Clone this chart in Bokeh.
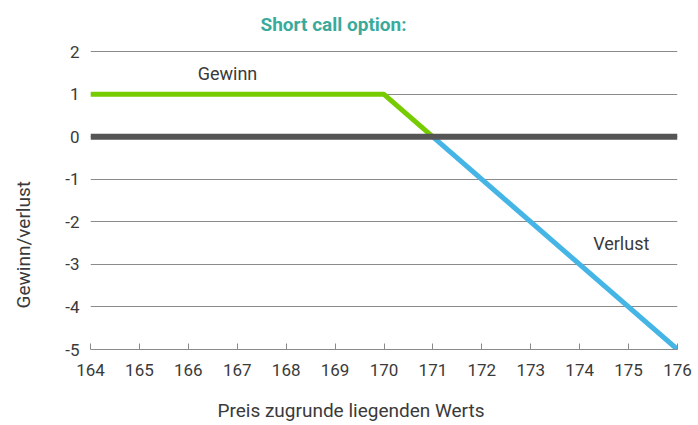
from bokeh.plotting import figure
from bokeh.models import Span, Label, Range1d, FixedTicker, Title
from bokeh.embed import file_html
from bokeh.resources import INLINE

# data
gain_x = [164, 170, 171]
gain_y = [1, 1, 0]
loss_x = [171, 176]
loss_y = [0, -5]
x_ticks = list(range(164, 177))
y_ticks = [-5, -4, -3, -2, -1, 0, 1, 2]

FONT = "Roboto"
TXT = "#3a3a3a"
NBSP = "\u00a0"

p = figure(width=698, height=425, output_backend="svg", toolbar_location=None,
           x_range=Range1d(164, 176), y_range=Range1d(-5, 2.03),
           min_border_left=90, min_border_right=21, min_border_top=48, min_border_bottom=76)
p.outline_line_color = None
p.background_fill_color = "white"

p.title = Title(text="Short call option:", text_font=FONT, text_font_size="19px",
                text_font_style="bold", text_color="#3aaa9c", align="left", offset=170,
                standoff=25, vertical_align="top")

p.xaxis.ticker = FixedTicker(ticks=x_ticks)
p.yaxis.ticker = FixedTicker(ticks=y_ticks)
p.yaxis.major_label_overrides = {v: str(v) for v in y_ticks}

for ax in (p.xaxis[0], p.yaxis[0]):
    ax.major_label_text_font = FONT
    ax.major_label_text_font_size = "17px"
    ax.major_label_text_color = TXT
    ax.minor_tick_line_color = None
    ax.axis_label_text_font = FONT
    ax.axis_label_text_font_size = "19px"
    ax.axis_label_text_font_style = "normal"
    ax.axis_label_text_color = TXT

p.xaxis.axis_label = "Preis zugrunde liegenden Werts" + NBSP * 14
p.xaxis.axis_label_standoff = 20
p.xaxis.axis_line_color = "#8a8a8a"
p.xaxis.major_tick_line_color = "#8a8a8a"
p.xaxis.major_tick_in = 6
p.xaxis.major_tick_out = 0
p.xaxis.major_label_standoff = 14

p.yaxis.axis_label = "Gewinn/verlust" + NBSP * 19
p.yaxis.axis_label_standoff = 27
p.yaxis.axis_line_color = None
p.yaxis.major_tick_line_color = None
p.yaxis.major_tick_in = 0
p.yaxis.major_tick_out = 0
p.yaxis.major_label_standoff = 11

p.xgrid.grid_line_color = None
p.ygrid.grid_line_color = "#8a8a8a"
p.ygrid.grid_line_width = 1

p.add_layout(Span(location=0, dimension="width", line_color="#555555", line_width=6))

p.line(gain_x, gain_y, line_color="#77cc00", line_width=5)
p.line(loss_x, loss_y, line_color="#45b5e6", line_width=5)

p.add_layout(Label(x=166.80, y=1.49, text="Gewinn", text_font=FONT, text_font_size="18px",
                   text_color=TXT, text_align="center", text_baseline="middle"))
p.add_layout(Label(x=174.85, y=-2.50, text="Verlust", text_font=FONT, text_font_size="18px",
                   text_color=TXT, text_align="center", text_baseline="middle"))

open("out.html", "w").write(file_html(p, INLINE))
